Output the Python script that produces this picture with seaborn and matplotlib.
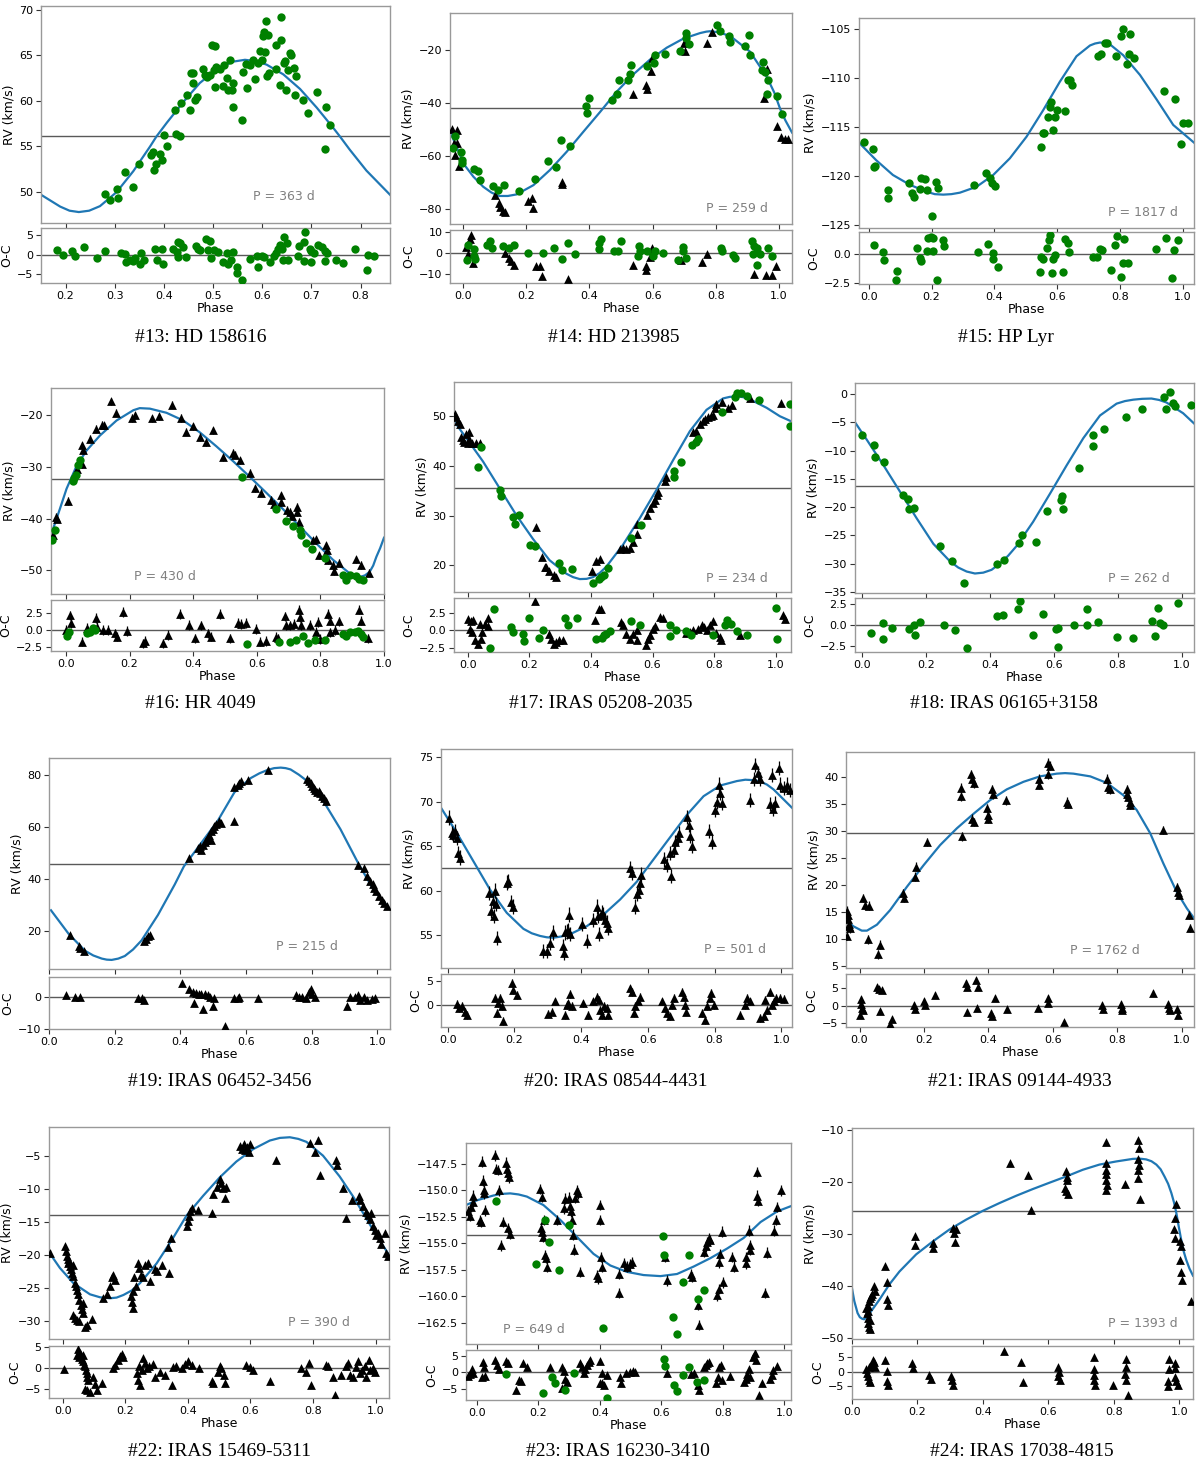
#radial velocity curves with O-C residuals for twelve binaries
import matplotlib
matplotlib.use('Agg')
import matplotlib.pyplot as plt
import seaborn as sns

# ---------------- data (phase, value) ----------------
P13_CURVE = [(0.150, 49.7), (0.189, 48.4), (0.208, 47.95), (0.227, 47.8), (0.248, 47.95), (0.270, 48.45),
             (0.304, 50.0), (0.338, 52.3), (0.372, 55.0), (0.385, 56.1), (0.406, 57.6), (0.440, 59.9),
             (0.473, 61.95), (0.507, 63.45), (0.541, 64.3), (0.565, 64.5), (0.587, 64.35), (0.609, 63.97),
             (0.643, 62.9), (0.677, 61.3), (0.711, 59.25), (0.745, 57.0), (0.758, 56.1), (0.778, 54.65),
             (0.812, 52.35), (0.860, 49.7)]
P13_GREEN = [(0.280, 49.8), (0.290, 49.1), (0.304, 50.3), (0.307, 49.3), (0.320, 52.2), (0.338, 50.5),
             (0.350, 53.1), (0.374, 54.1), (0.378, 54.4), (0.380, 52.4), (0.383, 53.1), (0.392, 54.2),
             (0.397, 53.5), (0.401, 56.3), (0.406, 55.0), (0.422, 59.0), (0.425, 56.4), (0.433, 56.1),
             (0.434, 59.8), (0.448, 60.6), (0.453, 59.0), (0.456, 63.0), (0.459, 63.1), (0.460, 62.0),
             (0.463, 60.1), (0.467, 60.4), (0.480, 63.5), (0.483, 62.8), (0.487, 62.6), (0.493, 62.8),
             (0.497, 66.1), (0.503, 66.0), (0.501, 63.4), (0.504, 61.5), (0.507, 63.7), (0.514, 63.5),
             (0.520, 61.6), (0.522, 63.9), (0.528, 62.5), (0.531, 61.2), (0.534, 64.5), (0.538, 61.2),
             (0.541, 62.0), (0.541, 59.3), (0.558, 57.9), (0.561, 63.2), (0.568, 64.0), (0.570, 61.4),
             (0.575, 63.9), (0.582, 64.5), (0.585, 62.4), (0.592, 64.1), (0.595, 65.5), (0.599, 64.5),
             (0.601, 67.1), (0.604, 67.6), (0.606, 65.4), (0.608, 68.8), (0.609, 62.7), (0.612, 67.2),
             (0.614, 63.0), (0.628, 66.1), (0.629, 63.5), (0.636, 61.7), (0.638, 69.2), (0.638, 66.7),
             (0.644, 64.1), (0.646, 64.4), (0.648, 61.2), (0.653, 63.4), (0.656, 65.2), (0.659, 65.0),
             (0.665, 63.6), (0.667, 60.6), (0.668, 62.7), (0.682, 60.1), (0.694, 58.7), (0.711, 61.0),
             (0.728, 54.7), (0.730, 59.3), (0.738, 57.4)]
P13_GREEN_OC = [(0.182, 1.1), (0.195, 0.0), (0.214, 0.9), (0.219, -0.4), (0.237, 1.8), (0.263, -1.0),
                (0.280, 0.9), (0.312, 0.3), (0.321, 0.1), (0.323, -1.9), (0.331, -1.3), (0.338, -1.6),
                (0.341, -1.0), (0.351, -2.3), (0.354, 0.4), (0.360, -1.4), (0.382, 1.5), (0.385, -1.3),
                (0.397, 1.5), (0.399, -2.3), (0.418, 1.3), (0.426, 0.7), (0.428, 3.2), (0.433, 2.8),
                (0.438, 1.8), (0.429, -0.6), (0.445, -0.6), (0.465, 2.1), (0.470, 1.5), (0.473, 1.1),
                (0.486, 3.8), (0.494, 3.5), (0.496, -1.0), (0.489, 1.1), (0.501, 1.1), (0.511, 0.7),
                (0.521, -1.9), (0.528, 0.5), (0.530, -2.5), (0.536, -1.3), (0.541, 0.7), (0.548, -3.1),
                (0.549, -4.7), (0.558, -6.4), (0.576, -1.2), (0.592, -3.1), (0.590, -0.4), (0.599, -0.3),
                (0.603, -0.6), (0.616, -2.0), (0.624, -0.3), (0.628, 0.3), (0.632, 1.3), (0.636, 2.4),
                (0.640, 1.5), (0.643, -1.4), (0.644, 4.5), (0.650, 3.0), (0.653, -1.3), (0.673, -0.3),
                (0.675, 2.1), (0.685, 3.2), (0.687, 5.6), (0.685, -1.7), (0.697, 1.3), (0.700, 0.9),
                (0.700, -2.0), (0.706, 0.3), (0.714, 2.4), (0.721, 1.9), (0.727, 0.9), (0.727, -1.7),
                (0.731, 0.4), (0.751, -1.3), (0.765, -2.1), (0.789, 1.4), (0.813, -3.8), (0.816, -0.2),
                (0.828, -0.3)]
P13_TRI = []
P13_TRI_OC = []

P14_CURVE = [(-0.041, -50.8), (-0.020, -56.5), (0.001, -62.8), (0.033, -67.8), (0.064, -71.6),
             (0.090, -73.8), (0.115, -75.1), (0.142, -75.1), (0.170, -74.5), (0.223, -71.0),
             (0.275, -65.3), (0.328, -58.4), (0.381, -50.8), (0.434, -43.3), (0.486, -35.7),
             (0.539, -29.1), (0.592, -23.5), (0.645, -19.0), (0.697, -15.6), (0.750, -13.5),
             (0.770, -12.95), (0.782, -12.8), (0.803, -13.1), (0.830, -14.0), (0.855, -15.5),
             (0.908, -20.5), (0.961, -30.0), (0.985, -36.0), (1.003, -42.0), (1.020, -46.5),
             (1.041, -51.1)]
P14_GREEN = [(-0.031, -57.1), (-0.025, -52.5), (-0.006, -58.4), (-0.004, -61.5), (-0.004, -62.8),
             (0.035, -65.0), (0.049, -65.5), (0.054, -69.1), (0.096, -71.3), (0.112, -72.8),
             (0.130, -70.9), (0.178, -73.2), (0.228, -68.7), (0.268, -61.9), (0.293, -64.0),
             (0.311, -54.0), (0.339, -56.2), (0.389, -41.0), (0.391, -43.7), (0.399, -38.2),
             (0.470, -38.9), (0.486, -36.6), (0.494, -31.1), (0.523, -31.3), (0.528, -29.1),
             (0.531, -25.7), (0.581, -26.0), (0.604, -24.8), (0.608, -21.6), (0.639, -21.3),
             (0.687, -20.3), (0.705, -13.5), (0.706, -15.2), (0.714, -17.7), (0.803, -10.3),
             (0.813, -12.7), (0.843, -14.7), (0.845, -16.9), (0.892, -18.5), (0.906, -14.3),
             (0.908, -21.6), (0.948, -24.4), (0.945, -27.3), (0.956, -28.2), (0.966, -31.3),
             (0.961, -36.4), (0.995, -37.2), (1.008, -44.2)]
P14_TRI = [(-0.034, -49.9), (-0.020, -50.2), (-0.027, -55.2), (-0.018, -55.0), (-0.025, -59.6),
           (-0.013, -63.8), (0.101, -74.7), (0.114, -77.9), (0.117, -79.1), (0.128, -80.6),
           (0.133, -81.1), (0.207, -76.9), (0.219, -76.0), (0.223, -79.8), (0.312, -69.7),
           (0.314, -70.7), (0.537, -36.7), (0.579, -33.0), (0.581, -34.8), (0.594, -27.8),
           (0.597, -23.1), (0.703, -20.3), (0.700, -17.2), (0.771, -17.1), (0.789, -13.1),
           (0.952, -37.9), (0.961, -27.0), (0.993, -48.7), (1.006, -52.7), (1.019, -53.7),
           (1.027, -53.7)]
P14_GREEN_OC = [(0.012, -3.1), (0.017, 3.9), (0.035, 1.9), (0.035, -1.2), (0.038, -2.8), (0.075, 3.9),
                (0.085, 5.5), (0.093, 2.3), (0.128, 3.4), (0.146, 2.3), (0.161, 3.9), (0.207, 0.0),
                (0.254, 0.0), (0.289, 2.3), (0.313, -2.8), (0.331, 5.0), (0.354, -0.5), (0.430, 5.0),
                (0.437, 6.6), (0.431, 1.9), (0.478, 0.8), (0.491, 1.2), (0.499, 5.5), (0.558, 3.4),
                (0.554, -1.2), (0.560, 0.8), (0.583, 1.2), (0.602, -1.2), (0.608, 1.2), (0.634, 0.0),
                (0.679, -3.1), (0.695, 3.1), (0.697, 0.8), (0.705, -2.3), (0.816, 2.3), (0.821, 1.2),
                (0.853, -0.8), (0.861, -2.3), (0.914, 5.9), (0.921, 3.4), (0.917, -0.5), (0.929, 2.3),
                (0.929, -5.5), (0.940, -0.3), (0.964, 2.3), (0.977, -1.2)]
P14_TRI_OC = [(0.009, 3.1), (0.017, -0.3), (0.025, 8.6), (0.022, 6.6), (0.031, -4.7), (0.133, 0.0),
              (0.147, -2.3), (0.152, -3.9), (0.161, -5.5), (0.230, -6.2), (0.244, -6.2), (0.249, -10.6),
              (0.333, -12.2), (0.539, -5.5), (0.579, -5.9), (0.579, -8.1), (0.592, -1.9), (0.597, 2.3),
              (0.690, -3.4), (0.757, -4.4), (0.773, -0.3), (0.921, -9.7), (0.935, 1.9), (0.959, -10.5),
              (0.977, -10.1), (0.991, -6.2)]

P15_CURVE = [(-0.031, -116.6), (0.024, -118.4), (0.077, -119.9), (0.131, -120.9), (0.184, -121.6),
             (0.210, -121.85), (0.237, -121.9), (0.263, -121.85), (0.290, -121.7), (0.343, -121.1),
             (0.396, -119.9), (0.449, -118.2), (0.502, -116.0), (0.555, -113.3), (0.608, -110.4),
             (0.661, -107.8), (0.704, -106.7), (0.720, -106.5), (0.736, -106.4), (0.752, -106.45),
             (0.768, -106.6), (0.810, -107.7), (0.863, -109.7), (0.916, -112.2), (0.969, -114.8),
             (1.035, -116.6)]
P15_GREEN = [(-0.016, -116.5), (0.014, -117.3), (0.016, -119.1), (0.019, -119.0), (0.062, -121.4),
             (0.062, -122.2), (0.128, -120.7), (0.139, -121.7), (0.144, -122.1), (0.162, -121.3),
             (0.166, -120.2), (0.178, -120.3), (0.184, -121.4), (0.200, -124.1), (0.213, -120.6),
             (0.220, -121.2), (0.335, -120.9), (0.372, -119.7), (0.385, -120.2), (0.391, -120.7),
             (0.403, -121.0), (0.547, -117.0), (0.553, -115.6), (0.558, -115.6), (0.570, -114.0),
             (0.576, -113.0), (0.579, -112.5), (0.587, -115.3), (0.593, -114.0), (0.598, -113.3),
             (0.626, -113.4), (0.635, -110.2), (0.642, -110.2), (0.648, -110.7), (0.728, -107.8),
             (0.739, -107.6), (0.752, -106.4), (0.759, -106.4), (0.786, -107.8), (0.803, -105.7),
             (0.808, -105.0), (0.821, -108.6), (0.829, -107.6), (0.831, -105.5), (0.844, -108.0),
             (0.941, -111.3), (0.975, -112.2), (0.994, -116.7), (1.001, -114.6), (1.015, -114.6)]
P15_GREEN_OC = [(0.016, 0.72), (0.046, 0.14), (0.048, -0.56), (0.088, -2.22), (0.091, -1.45),
                (0.152, 0.5), (0.162, -0.33), (0.166, -0.61), (0.184, 0.22), (0.187, 1.33),
                (0.197, 1.39), (0.203, 1.33), (0.205, 0.28), (0.218, -2.22), (0.235, 1.14),
                (0.240, 0.69), (0.348, 0.17), (0.380, 0.83), (0.394, 0.08), (0.396, -0.42),
                (0.410, -1.08), (0.545, -1.53), (0.547, -0.28), (0.553, -0.42), (0.566, 0.50),
                (0.573, 1.19), (0.576, 1.56), (0.584, -1.58), (0.587, -0.42), (0.593, -0.06),
                (0.619, -1.53), (0.626, 1.25), (0.635, 0.92), (0.638, 0.17), (0.714, -0.25),
                (0.725, -0.25), (0.736, 0.44), (0.743, 0.36), (0.770, -1.39), (0.783, 0.72),
                (0.789, 1.47), (0.803, -1.92), (0.808, -0.81), (0.813, 1.25), (0.826, -0.81),
                (0.914, 0.44), (0.946, 1.33), (0.964, -2.08), (0.971, 0.36), (0.985, 1.14)]
P15_TRI = []
P15_TRI_OC = []

P16_CURVE = [(-0.047, -43.2), (-0.019, -38.1), (0.002, -34.2), (0.034, -29.7), (0.065, -26.8),
             (0.107, -23.9), (0.159, -21.0), (0.212, -19.0), (0.232, -18.6), (0.264, -18.7),
             (0.316, -19.5), (0.369, -21.0), (0.421, -23.3), (0.473, -26.0), (0.526, -28.9),
             (0.578, -31.9), (0.630, -35.0), (0.683, -38.2), (0.735, -41.5), (0.787, -44.8),
             (0.840, -48.0), (0.892, -50.6), (0.908, -51.1), (0.924, -51.3), (0.940, -51.0),
             (0.955, -50.3), (0.966, -49.1), (0.976, -47.4), (0.988, -45.7), (1.000, -43.7)]
P16_GREEN = [(-0.045, -44.2), (-0.035, -42.3), (0.021, -32.8), (0.025, -32.1), (0.031, -31.5),
             (0.039, -29.7), (0.044, -28.7), (0.552, -31.9), (0.659, -38.1), (0.693, -40.5),
             (0.714, -41.4), (0.735, -42.3), (0.740, -43.1), (0.754, -44.8), (0.775, -45.8),
             (0.814, -47.7), (0.871, -51.0), (0.882, -51.9), (0.892, -51.0), (0.913, -51.2),
             (0.921, -51.6), (0.934, -51.8)]
P16_TRI = [(-0.042, -43.1), (-0.031, -39.7), (-0.027, -40.0), (0.005, -36.6), (0.036, -30.3),
           (0.049, -29.4), (0.052, -25.8), (0.054, -26.8), (0.075, -24.5), (0.096, -22.6),
           (0.114, -21.8), (0.119, -21.9), (0.143, -17.3), (0.157, -19.5), (0.207, -20.5),
           (0.217, -20.0), (0.272, -20.6), (0.293, -20.2), (0.332, -17.9), (0.361, -20.5),
           (0.400, -22.1), (0.379, -23.2), (0.421, -24.2), (0.440, -25.2), (0.461, -22.9),
           (0.494, -28.1), (0.524, -27.3), (0.531, -27.6), (0.547, -28.7), (0.580, -31.1),
           (0.593, -34.1), (0.612, -35.0), (0.646, -36.4), (0.653, -37.1), (0.677, -35.5),
           (0.675, -36.8), (0.695, -38.3), (0.704, -38.7), (0.712, -39.4), (0.725, -38.7),
           (0.725, -37.7), (0.732, -40.6), (0.777, -44.2), (0.787, -44.0), (0.796, -47.1),
           (0.817, -45.2), (0.822, -46.1), (0.824, -48.1), (0.840, -49.0), (0.859, -48.5),
           (0.843, -50.2), (0.911, -47.9), (0.929, -49.0), (0.953, -50.5)]
P16_GREEN_OC = [(0.002, -0.85), (0.010, -0.25), (0.067, -0.5), (0.077, -0.25), (0.084, 0.25),
                (0.091, 0.0), (0.568, -2.15), (0.670, -1.85), (0.704, -1.85), (0.722, -1.5),
                (0.745, -0.85), (0.761, -2.0), (0.782, -1.5), (0.814, -1.5), (0.871, -0.65),
                (0.882, -0.85), (0.892, -0.25), (0.908, -0.25), (0.919, -0.15), (0.927, -0.65),
                (0.934, -1.1)]
P16_TRI_OC = [(-0.001, 0.0), (0.013, 2.15), (0.016, 1.0), (0.049, -1.75), (0.067, 0.25), (0.096, 1.75),
              (0.098, 0.5), (0.115, 0.0), (0.133, 0.0), (0.154, -0.5), (0.159, -1.0), (0.180, 2.65),
              (0.193, -0.15), (0.243, -2.0), (0.249, -1.65), (0.304, -2.0), (0.321, -0.75),
              (0.360, 2.35), (0.387, 0.75), (0.405, -1.25), (0.424, 0.65), (0.447, -0.5),
              (0.457, -1.0), (0.484, 2.35), (0.515, -1.25), (0.541, 1.0), (0.549, 0.85),
              (0.565, 1.0), (0.597, 0.15), (0.610, -1.75), (0.628, -1.65), (0.660, -1.0),
              (0.667, -1.25), (0.688, 2.0), (0.691, 0.65), (0.706, 0.65), (0.717, 0.85),
              (0.733, 3.0), (0.737, 1.85), (0.740, 0.65), (0.766, 0.75), (0.787, -0.25),
              (0.793, 1.15), (0.800, -1.35), (0.824, 2.35), (0.829, 1.35), (0.831, -0.35),
              (0.845, 0.0), (0.860, 1.25), (0.920, 3.0), (0.929, 1.35), (0.950, -1.25)]

P17_CURVE = [(-0.044, 49.0), (-0.004, 45.6), (0.050, 40.9), (0.104, 35.5), (0.158, 30.1), (0.212, 25.3),
             (0.266, 21.0), (0.320, 18.3), (0.342, 17.6), (0.364, 17.2), (0.386, 17.25), (0.407, 17.6),
             (0.428, 18.4), (0.450, 19.7), (0.504, 24.1), (0.558, 29.4), (0.613, 35.2), (0.667, 41.2),
             (0.721, 47.0), (0.775, 51.3), (0.829, 53.6), (0.850, 53.9), (0.872, 54.0), (0.894, 53.85),
             (0.916, 53.4), (0.970, 51.7), (1.013, 50.0), (1.049, 49.0)]
P17_GREEN = [(0.044, 43.9), (0.034, 39.7), (0.104, 35.2), (0.109, 34.0), (0.147, 29.8), (0.153, 28.3),
             (0.167, 30.1), (0.201, 24.1), (0.218, 23.8), (0.297, 20.5), (0.307, 19.0), (0.340, 19.2),
             (0.407, 16.5), (0.426, 17.3), (0.434, 17.6), (0.442, 18.1), (0.456, 19.5), (0.529, 25.5),
             (0.561, 28.0), (0.669, 37.7), (0.669, 39.0), (0.692, 40.8), (0.729, 44.3), (0.742, 44.9),
             (0.746, 45.5), (0.824, 50.9), (0.867, 53.8), (0.874, 54.7), (0.886, 54.6), (0.907, 54.0),
             (0.945, 53.2), (1.045, 52.4), (1.045, 48.0)]
P17_TRI = [(-0.042, 50.5), (-0.037, 49.8), (-0.031, 49.0), (-0.026, 48.4), (-0.021, 45.8), (-0.015, 45.3),
           (-0.010, 44.9), (-0.004, 46.4), (0.001, 44.6), (0.006, 45.5), (0.015, 44.6), (0.026, 44.6),
           (0.039, 44.6), (0.006, 46.8), (0.221, 27.6), (0.242, 21.7), (0.250, 19.7), (0.255, 19.7),
           (0.263, 18.8), (0.279, 18.0), (0.288, 17.6), (0.402, 18.8), (0.416, 20.8), (0.429, 21.2),
           (0.494, 23.2), (0.504, 23.4), (0.515, 23.2), (0.526, 23.4), (0.535, 24.7), (0.550, 26.2),
           (0.550, 28.2), (0.582, 30.1), (0.591, 31.5), (0.600, 32.5), (0.607, 33.1), (0.613, 34.2),
           (0.618, 34.7), (0.640, 36.9), (0.645, 37.7), (0.732, 46.8), (0.742, 47.1), (0.753, 48.4),
           (0.764, 49.0), (0.770, 49.5), (0.780, 49.8), (0.788, 50.0), (0.797, 50.2), (0.802, 51.7),
           (0.807, 52.4), (0.824, 52.9), (0.845, 51.7), (0.859, 52.2), (0.916, 53.6), (1.018, 52.7)]
P17_GREEN_OC = [(0.085, 3.15), (0.074, -2.55), (0.142, 0.5), (0.147, -0.25), (0.180, -0.5), (0.184, -1.6),
                (0.198, 1.8), (0.232, -1.1), (0.245, 0.0), (0.317, 1.85), (0.326, 0.75), (0.355, 1.85),
                (0.418, -1.2), (0.437, -1.1), (0.443, -0.75), (0.450, -0.5), (0.461, -0.15),
                (0.529, 1.3), (0.558, 0.75), (0.658, 0.75), (0.658, -0.85), (0.677, 0.0),
                (0.710, -0.15), (0.724, -0.65), (0.797, -0.65), (0.834, 0.75), (0.843, 1.45),
                (0.854, 0.95), (0.874, -0.15), (0.907, -0.75), (1.000, 3.25), (1.002, -1.2)]
P17_TRI_OC = [(0.001, 1.6), (0.010, 1.3), (0.017, 1.45), (0.009, 0.15), (0.015, -0.25), (0.023, -1.45),
              (0.034, -1.95), (0.039, 0.95), (0.044, -1.2), (0.048, -0.25), (0.055, 0.95), (0.066, 1.8),
              (0.066, 0.65), (0.218, 4.2), (0.264, -0.5), (0.272, -1.2), (0.279, -1.95), (0.288, -1.7),
              (0.297, -1.45), (0.310, -1.45), (0.412, 1.45), (0.426, 3.15), (0.434, 3.15),
              (0.497, 1.2), (0.504, 0.8), (0.515, -0.5), (0.526, -1.2), (0.537, -0.5), (0.548, -1.45),
              (0.550, 0.0), (0.580, -2.1), (0.586, -1.2), (0.593, -0.75), (0.602, 0.25), (0.607, 0.65),
              (0.623, 1.95), (0.634, 1.8), (0.708, -0.35), (0.721, -0.25), (0.732, 0.0), (0.748, 0.25),
              (0.759, 0.75), (0.766, 0.5), (0.775, 0.0), (0.786, 0.75), (0.797, 1.3), (0.807, -0.35),
              (0.818, -0.95), (0.821, -1.45), (0.883, -0.65), (1.024, 2.2), (1.029, 1.7)]

P18_CURVE = [(-0.021, -5.0), (0.016, -8.1), (0.068, -12.6), (0.120, -17.3), (0.172, -22.0), (0.224, -26.5),
             (0.276, -29.6), (0.302, -30.7), (0.328, -31.4), (0.354, -31.75), (0.380, -31.6), (0.406, -31.1),
             (0.432, -30.0), (0.458, -28.6), (0.484, -26.9), (0.536, -22.6), (0.589, -17.6), (0.641, -12.6),
             (0.693, -7.8), (0.745, -3.8), (0.797, -1.7), (0.823, -1.25), (0.849, -1.0), (0.877, -0.85),
             (0.906, -0.8), (0.930, -1.05), (0.953, -1.5), (1.005, -3.4), (1.039, -5.2)]
P18_GREEN = [(0.000, -7.2), (0.039, -9.0), (0.042, -11.1), (0.070, -12.1), (0.128, -17.8), (0.144, -18.6),
             (0.149, -20.4), (0.165, -20.1), (0.245, -26.9), (0.281, -29.5), (0.321, -33.4), (0.424, -30.0),
             (0.445, -29.3), (0.493, -26.3), (0.500, -25.0), (0.544, -26.2), (0.578, -20.7), (0.623, -18.8),
             (0.627, -18.0), (0.630, -20.4), (0.680, -13.0), (0.724, -7.2), (0.724, -9.2), (0.758, -6.2),
             (0.826, -4.1), (0.877, -2.6), (0.945, -0.6), (0.964, 0.35), (0.953, -2.6), (0.972, -1.6),
             (0.979, -2.2), (1.029, -2.0)]
P18_GREEN_OC = [(0.029, -0.9), (0.065, 0.2), (0.068, -1.7), (0.094, -0.3), (0.149, -0.5), (0.164, 0.0),
                (0.167, -1.2), (0.182, 0.3), (0.257, 0.0), (0.292, -0.6), (0.328, -2.7), (0.424, 1.1),
                (0.443, 1.2), (0.490, 1.9), (0.495, 2.8), (0.536, -1.2), (0.568, 1.3), (0.609, -0.5),
                (0.615, -0.3), (0.615, -2.6), (0.664, 0.0), (0.703, 1.9), (0.705, 0.0), (0.738, 0.4),
                (0.799, -1.4), (0.847, -1.5), (0.909, 0.5), (0.917, -1.3), (0.927, 2.0), (0.932, 0.2),
                (0.943, 0.0), (0.990, 2.6)]
P18_TRI = []
P18_TRI_OC = []

P19_CURVE = [(0.006, 28.1), (0.060, 19.0), (0.110, 12.5), (0.135, 10.7), (0.161, 9.5), (0.176, 9.1),
             (0.191, 9.0), (0.211, 9.5), (0.231, 10.5), (0.256, 13.0), (0.282, 16.5), (0.332, 26.3),
             (0.383, 38.0), (0.411, 45.0), (0.464, 54.0), (0.514, 62.5), (0.565, 73.5), (0.615, 79.0),
             (0.641, 80.8), (0.666, 82.1), (0.686, 82.8), (0.706, 83.0), (0.721, 82.8), (0.736, 82.3),
             (0.761, 80.3), (0.787, 77.8), (0.837, 69.9), (0.888, 59.3), (0.943, 46.0), (0.989, 36.0),
             (1.039, 28.5)]
P19_GREEN = []
P19_GREEN_OC = []
P19_TRI = [(0.063, 18.7), (0.090, 14.5), (0.095, 13.6), (0.108, 12.6), (0.290, 16.4), (0.297, 17.1),
           (0.302, 18.1), (0.307, 18.7), (0.428, 48.2), (0.454, 52.1), (0.461, 52.7), (0.464, 51.4),
           (0.468, 53.3), (0.474, 54.2), (0.479, 55.3), (0.484, 56.3), (0.489, 57.2), (0.494, 58.5),
           (0.499, 59.4), (0.504, 60.4), (0.509, 61.4), (0.519, 62.3), (0.524, 61.7), (0.494, 55.3),
           (0.563, 62.3), (0.565, 75.5), (0.576, 76.4), (0.580, 77.1), (0.585, 77.7), (0.607, 78.1),
           (0.666, 82.2), (0.787, 78.6), (0.792, 77.7), (0.797, 77.1), (0.802, 76.0), (0.807, 75.1),
           (0.812, 74.5), (0.817, 73.5), (0.822, 73.9), (0.827, 73.2), (0.832, 72.2), (0.837, 71.3),
           (0.843, 70.0), (0.943, 45.6), (0.959, 44.4), (0.969, 41.4), (0.979, 39.2), (0.987, 38.2),
           (0.989, 36.7), (0.997, 35.4), (1.004, 33.7), (1.014, 32.2), (1.021, 30.9), (1.029, 29.6)]
P19_TRI_OC = [(0.052, 0.7), (0.080, 0.2), (0.095, 0.2), (0.272, -0.3), (0.282, -0.3), (0.290, -1.0),
              (0.405, 4.4), (0.428, 2.5), (0.438, 1.8), (0.443, -1.7), (0.448, 1.5), (0.456, 1.2),
              (0.464, 1.2), (0.474, 0.9), (0.469, -3.7), (0.484, 0.7), (0.492, 0.2), (0.499, -2.9),
              (0.504, -0.3), (0.536, -9.2), (0.565, -0.3), (0.576, -0.3), (0.580, 0.2), (0.637, -0.3),
              (0.752, 0.7), (0.762, 0.0), (0.772, 0.2), (0.782, -0.3), (0.792, 1.8), (0.797, 2.5),
              (0.802, 1.0), (0.812, 0.0), (0.908, -2.7), (0.918, 0.0), (0.933, 0.2), (0.943, 0.7),
              (0.948, -1.0), (0.959, 0.0), (0.969, -1.0), (0.984, -0.6), (0.994, -0.3)]

P20_CURVE = [(-0.020, 69.3), (0.027, 66.5), (0.077, 63.3), (0.127, 60.1), (0.177, 57.5), (0.227, 55.7),
             (0.252, 55.2), (0.277, 54.9), (0.297, 54.75), (0.317, 54.7), (0.342, 54.85), (0.367, 55.1),
             (0.417, 56.0), (0.467, 57.3), (0.517, 59.0), (0.567, 61.0), (0.617, 63.5), (0.667, 66.0),
             (0.717, 68.5), (0.767, 70.6), (0.817, 71.8), (0.867, 72.3), (0.892, 72.45), (0.917, 72.4),
             (0.937, 72.25), (0.957, 71.9), (0.977, 71.35), (0.997, 70.6), (1.032, 69.3)]
P20_GREEN = []
P20_GREEN_OC = []
P20_TRI = [(0.005, 68.2), (0.012, 66.5), (0.017, 66.2), (0.022, 66.7), (0.027, 65.9), (0.032, 64.2),
           (0.037, 63.7), (0.125, 59.7), (0.129, 57.7), (0.135, 58.8), (0.139, 57.1), (0.142, 60.0),
           (0.145, 58.5), (0.149, 54.7), (0.177, 60.9), (0.182, 61.1), (0.190, 58.7), (0.197, 58.2),
           (0.287, 53.2), (0.299, 53.2), (0.307, 54.1), (0.315, 55.3), (0.347, 53.8), (0.349, 53.0),
           (0.352, 55.3), (0.357, 55.4), (0.362, 55.6), (0.365, 57.3), (0.367, 55.1), (0.402, 56.2),
           (0.419, 54.3), (0.435, 56.7), (0.447, 58.2), (0.452, 57.1), (0.455, 55.1), (0.462, 57.6),
           (0.467, 57.3), (0.472, 56.7), (0.477, 56.4), (0.482, 55.8), (0.547, 62.5), (0.552, 62.0),
           (0.562, 58.2), (0.567, 59.6), (0.572, 60.1), (0.577, 60.9), (0.579, 61.8), (0.647, 63.5),
           (0.657, 62.9), (0.665, 64.2), (0.669, 61.6), (0.677, 64.6), (0.682, 65.4), (0.689, 65.9),
           (0.692, 66.5), (0.717, 68.3), (0.722, 67.4), (0.727, 66.1), (0.732, 65.0), (0.782, 66.7),
           (0.792, 65.5), (0.802, 69.1), (0.807, 70.0), (0.812, 71.9), (0.817, 71.0), (0.822, 69.8),
           (0.905, 70.2), (0.917, 72.5), (0.922, 74.1), (0.929, 73.2), (0.935, 72.5), (0.965, 69.7),
           (0.972, 73.0), (0.975, 69.2), (0.982, 69.8), (0.992, 73.8), (0.997, 71.9), (1.007, 71.5),
           (1.017, 71.9), (1.027, 71.3)]
P20_TRI_OC = [(0.027, 0.2), (0.035, -0.7), (0.042, -0.2), (0.052, -1.4), (0.057, -2.1), (0.142, 1.4),
              (0.147, -1.7), (0.152, 0.3), (0.157, 1.4), (0.162, -0.3), (0.165, -3.4), (0.192, 4.5),
              (0.197, 3.1), (0.207, 2.1), (0.302, -1.8), (0.312, -1.4), (0.322, 0.7), (0.352, -2.1),
              (0.357, 0.0), (0.362, 0.3), (0.367, 2.3), (0.372, -0.2), (0.405, 0.3), (0.422, -2.1),
              (0.437, 0.7), (0.447, 1.7), (0.455, 1.0), (0.457, -1.0), (0.462, -2.1), (0.469, -0.2),
              (0.477, -0.7), (0.482, -2.1), (0.545, 3.4), (0.552, 2.7), (0.557, -1.7), (0.562, -0.3),
              (0.569, 0.7), (0.575, 1.7), (0.642, 0.7), (0.652, -0.7), (0.657, -1.7), (0.665, -2.4),
              (0.672, 0.0), (0.677, 1.4), (0.702, 2.7), (0.707, 1.7), (0.712, 0.0), (0.715, -1.4),
              (0.762, -1.7), (0.772, -3.2), (0.777, -0.3), (0.785, 1.4), (0.789, 2.4), (0.797, 0.0),
              (0.877, -2.1), (0.892, 0.0), (0.897, 1.4), (0.905, 0.7), (0.937, -2.7), (0.947, -2.4),
              (0.952, 1.0), (0.957, -1.0), (0.965, 2.7), (0.972, 0.0), (0.977, 0.7), (0.985, 1.4),
              (0.997, 1.4), (1.007, 1.2)]

P21_CURVE = [(-0.042, 13.6), (-0.019, 12.4), (0.007, 11.6), (0.023, 11.6), (0.054, 12.7), (0.095, 15.4),
             (0.147, 19.7), (0.199, 23.7), (0.250, 27.4), (0.302, 30.5), (0.354, 33.2), (0.405, 35.7),
             (0.457, 37.7), (0.509, 39.1), (0.560, 40.1), (0.612, 40.6), (0.638, 40.7), (0.664, 40.6),
             (0.716, 40.1), (0.767, 38.9), (0.819, 36.6), (0.860, 33.9), (0.902, 29.6), (0.943, 24.0),
             (0.984, 18.8), (1.016, 15.7), (1.038, 13.9)]
P21_GREEN = []
P21_GREEN_OC = []
P21_TRI = [(-0.039, 15.3), (-0.037, 14.5), (-0.036, 13.7), (-0.034, 12.9), (-0.032, 12.5), (-0.039, 10.6),
           (-0.031, 12.0), (0.012, 17.6), (0.018, 16.3), (0.030, 16.2), (0.026, 10.0), (0.062, 9.0),
           (0.057, 7.2), (0.134, 18.5), (0.137, 17.6), (0.175, 23.4), (0.173, 21.6), (0.209, 28.0),
           (0.314, 38.0), (0.314, 36.4), (0.317, 29.0), (0.345, 40.5), (0.350, 39.7), (0.354, 38.8),
           (0.350, 32.3), (0.354, 31.7), (0.397, 34.2), (0.398, 32.9), (0.400, 32.3), (0.411, 37.7),
           (0.413, 36.8), (0.454, 35.7), (0.558, 39.7), (0.558, 38.5), (0.586, 42.6), (0.592, 42.1),
           (0.586, 40.5), (0.643, 35.4), (0.648, 35.0), (0.767, 39.7), (0.772, 38.2), (0.776, 37.7),
           (0.830, 37.7), (0.831, 36.9), (0.834, 36.3), (0.838, 35.4), (0.840, 34.8), (0.941, 30.2),
           (0.984, 19.6), (0.988, 18.8), (0.990, 18.2), (1.021, 14.5), (1.026, 12.1)]
P21_TRI_OC = [(0.004, 1.9), (0.004, 0.6), (0.007, -0.7), (0.002, -2.6), (0.010, -1.3), (0.054, 5.5),
              (0.059, 4.8), (0.069, 4.6), (0.064, -1.6), (0.093, -5.2), (0.100, -3.8), (0.168, 0.3),
              (0.171, -1.0), (0.201, 1.5), (0.203, 0.3), (0.235, 3.1), (0.330, 6.5), (0.333, 5.3),
              (0.333, -1.8), (0.362, 7.4), (0.369, 5.5), (0.366, -0.7), (0.407, -2.1), (0.411, -2.9),
              (0.421, 2.2), (0.459, -0.9), (0.555, -0.7), (0.586, 0.8), (0.586, 2.2), (0.636, -4.8),
              (0.752, 0.3), (0.755, -1.0), (0.811, 0.6), (0.814, -0.7), (0.816, -1.3), (0.910, 3.6),
              (0.956, 0.6), (0.959, -0.7), (0.962, -1.1), (0.984, -1.0), (0.988, -2.6)]

P22_CURVE = [(-0.044, -19.6), (-0.009, -22.0), (0.034, -24.3), (0.087, -26.0), (0.119, -26.45),
             (0.151, -26.6), (0.172, -26.5), (0.194, -26.1), (0.221, -25.4), (0.247, -24.3),
             (0.300, -21.3), (0.353, -17.4), (0.396, -14.0), (0.449, -11.0), (0.502, -8.2),
             (0.555, -5.8), (0.609, -3.9), (0.662, -2.6), (0.694, -2.2), (0.726, -2.1), (0.753, -2.35),
             (0.779, -2.8), (0.832, -4.9), (0.885, -8.05), (0.928, -11.1), (0.965, -14.0),
             (1.002, -17.0), (1.043, -20.0)]
P22_GREEN = []
P22_GREEN_OC = []
P22_TRI = [(-0.040, -19.7), (0.007, -18.7), (0.011, -19.4), (0.013, -20.1), (0.016, -20.6), (0.018, -21.2),
           (0.021, -21.0), (0.023, -21.7), (0.026, -22.2), (0.029, -22.7), (0.032, -21.5), (0.034, -23.2),
           (0.039, -24.3), (0.043, -24.8), (0.047, -25.3), (0.050, -26.0), (0.053, -26.8), (0.057, -27.6),
           (0.061, -28.3), (0.064, -27.3), (0.032, -29.1), (0.039, -29.6), (0.047, -29.9), (0.053, -30.1),
           (0.071, -30.9), (0.079, -30.6), (0.093, -29.8), (0.066, -28.8), (0.130, -26.5), (0.140, -26.0),
           (0.151, -24.8), (0.156, -23.3), (0.162, -23.0), (0.167, -23.8), (0.217, -26.3), (0.220, -27.1),
           (0.223, -28.1), (0.226, -25.5), (0.229, -23.3), (0.234, -24.8), (0.241, -21.2), (0.245, -22.0),
           (0.249, -23.0), (0.255, -23.3), (0.263, -21.5), (0.273, -21.2), (0.279, -24.0), (0.295, -22.2),
           (0.300, -22.5), (0.316, -21.5), (0.337, -18.8), (0.340, -22.7), (0.345, -17.4), (0.396, -15.6),
           (0.399, -14.9), (0.402, -14.1), (0.406, -13.3), (0.412, -12.9), (0.433, -13.1), (0.476, -13.6),
           (0.481, -10.8), (0.494, -9.6), (0.502, -8.5), (0.507, -9.1), (0.513, -9.8), (0.518, -11.3),
           (0.521, -9.6), (0.568, -3.5), (0.573, -3.9), (0.579, -3.2), (0.584, -4.0), (0.589, -3.6),
           (0.596, -4.3), (0.600, -3.2), (0.681, -5.5), (0.789, -3.0), (0.805, -4.4), (0.816, -2.5),
           (0.821, -7.8), (0.872, -5.6), (0.877, -6.3), (0.896, -9.8), (0.904, -14.4), (0.926, -11.6),
           (0.947, -11.0), (0.951, -11.6), (0.960, -12.6), (0.968, -13.4), (0.976, -13.9), (0.981, -14.6),
           (0.986, -13.6), (0.991, -15.6), (0.997, -16.2), (1.002, -16.9), (1.007, -16.7), (1.013, -17.4),
           (1.018, -18.4), (1.029, -16.7), (1.034, -19.7), (1.040, -20.1)]
P22_TRI_OC = [(0.004, -0.2), (0.050, 4.4), (0.047, 3.1), (0.053, 2.6), (0.055, 3.5), (0.061, 2.1),
              (0.064, 1.6), (0.066, 3.1), (0.068, 0.8), (0.071, 0.4), (0.074, -0.4), (0.077, -1.2),
              (0.079, -2.0), (0.082, -2.7), (0.071, -4.9), (0.079, -5.2), (0.087, -5.5), (0.098, -2.0),
              (0.103, -3.7), (0.109, -5.1), (0.124, -3.5), (0.162, 0.0), (0.167, 0.8), (0.178, 2.0),
              (0.183, 2.9), (0.188, 3.4), (0.194, 2.6), (0.236, -1.2), (0.239, -2.7), (0.245, 0.5),
              (0.247, -3.9), (0.252, -0.4), (0.257, 2.3), (0.263, 1.2), (0.268, 0.0), (0.277, 0.4),
              (0.289, 1.0), (0.295, -2.0), (0.311, -0.8), (0.327, -1.6), (0.348, -3.9), (0.353, 0.2),
              (0.362, 0.5), (0.380, 0.0), (0.390, 1.0), (0.401, 1.6), (0.412, 0.8), (0.436, 0.0),
              (0.476, -3.1), (0.481, -3.5), (0.497, -0.8), (0.502, 0.5), (0.507, 0.0), (0.515, -1.6),
              (0.518, -3.5), (0.587, 0.8), (0.600, 0.2), (0.609, -0.4), (0.664, -3.1), (0.763, 0.0),
              (0.779, -0.8), (0.787, 1.2), (0.794, -3.9), (0.840, 0.8), (0.848, 0.4), (0.864, -2.0),
              (0.869, -6.2), (0.890, -1.6), (0.906, 0.4), (0.912, 1.2), (0.919, -1.6), (0.928, -2.0),
              (0.936, 0.2), (0.944, 1.6), (0.949, -1.2), (0.957, -0.4), (0.965, 0.4), (0.970, -2.0),
              (0.979, 2.0), (0.983, -0.5), (0.991, 0.0), (0.997, -0.8)]

P23_CURVE = [(-0.036, -151.4), (0.000, -150.95), (0.053, -150.5), (0.080, -150.35), (0.108, -150.3),
             (0.135, -150.4), (0.162, -150.6), (0.216, -151.4), (0.271, -152.8), (0.325, -154.4),
             (0.379, -156.0), (0.434, -157.1), (0.488, -157.7), (0.542, -158.0), (0.597, -158.1),
             (0.651, -157.9), (0.705, -157.2), (0.760, -156.4), (0.814, -155.5), (0.868, -154.5),
             (0.923, -153.0), (0.977, -152.0), (1.022, -151.5)]
P23_GREEN = [(0.062, -151.0), (0.191, -157.0), (0.222, -152.8), (0.233, -154.9), (0.268, -157.5),
             (0.298, -153.3), (0.409, -163.0), (0.605, -154.3), (0.610, -156.1), (0.638, -162.0),
             (0.651, -163.6), (0.671, -158.7), (0.690, -156.1), (0.720, -160.3), (0.740, -159.4)]
P23_TRI = [(-0.028, -152.0), (-0.023, -152.4), (-0.020, -151.6), (-0.014, -151.1), (-0.012, -150.5),
           (0.010, -152.8), (0.013, -153.0), (0.015, -147.3), (0.018, -149.1), (0.021, -150.0),
           (0.024, -150.3), (0.026, -151.9), (0.059, -146.7), (0.062, -148.0), (0.067, -148.1),
           (0.073, -150.0), (0.078, -155.2), (0.086, -153.0), (0.095, -147.4), (0.099, -148.0),
           (0.102, -148.4), (0.105, -148.8), (0.102, -153.6), (0.108, -154.1), (0.205, -149.9),
           (0.211, -150.6), (0.218, -152.8), (0.207, -153.6), (0.212, -153.9), (0.216, -154.4),
           (0.220, -156.1), (0.224, -156.4), (0.227, -157.2), (0.260, -152.8), (0.282, -151.7),
           (0.287, -150.8), (0.298, -150.7), (0.301, -151.5), (0.305, -152.0), (0.309, -152.8),
           (0.312, -154.2), (0.314, -155.6), (0.320, -150.7), (0.325, -150.0), (0.330, -150.3),
           (0.336, -157.7), (0.392, -158.0), (0.395, -158.3), (0.399, -151.4), (0.401, -152.8),
           (0.403, -156.3), (0.407, -157.2), (0.461, -157.9), (0.461, -159.7), (0.477, -156.9),
           (0.488, -157.2), (0.499, -157.0), (0.504, -156.8), (0.613, -156.3), (0.618, -158.5),
           (0.695, -157.9), (0.701, -158.2), (0.720, -160.8), (0.722, -162.7), (0.738, -155.8),
           (0.744, -155.3), (0.749, -154.9), (0.754, -154.5), (0.757, -154.7), (0.782, -159.9),
           (0.788, -159.3), (0.788, -156.8), (0.792, -156.0), (0.798, -153.9), (0.801, -158.7),
           (0.830, -156.3), (0.836, -157.2), (0.874, -156.3), (0.877, -156.9), (0.885, -153.8),
           (0.890, -155.2), (0.888, -155.6), (0.910, -148.3), (0.912, -150.5), (0.914, -151.0),
           (0.936, -159.7), (0.945, -155.9), (0.966, -153.8), (0.972, -152.8), (0.977, -151.6),
           (0.988, -150.0)]
P23_GREEN_OC = [(0.095, -0.5), (0.216, -6.3), (0.243, -1.3), (0.254, -3.4), (0.287, -5.5), (0.316, -0.3),
                (0.423, -7.8), (0.608, 4.0), (0.613, 2.0), (0.640, -3.9), (0.651, -5.7), (0.671, -0.8),
                (0.690, 1.8), (0.716, -2.9), (0.738, -2.2)]
P23_TRI_OC = [(-0.028, -1.1), (-0.023, -0.5), (-0.017, 0.9), (-0.012, -0.3), (0.015, -1.3), (0.018, 3.3),
              (0.021, 1.8), (0.026, -1.1), (0.059, 3.8), (0.064, 2.3), (0.070, 0.9), (0.127, -5.3),
              (0.135, -2.4), (0.095, 3.6), (0.102, 2.8), (0.142, -2.6), (0.151, 2.8), (0.162, 1.8),
              (0.236, 1.8), (0.276, 1.8), (0.282, 0.5), (0.287, -1.9), (0.292, -2.9), (0.276, -4.9),
              (0.334, 3.0), (0.341, 1.8), (0.347, -0.3), (0.352, 1.2), (0.358, 2.3), (0.363, 3.3),
              (0.368, 3.8), (0.401, 3.6), (0.407, -0.3), (0.407, -3.4), (0.401, -3.4), (0.414, -3.9),
              (0.423, -0.8), (0.466, -1.3), (0.470, -3.4), (0.486, -0.1), (0.499, 0.2), (0.508, 0.5),
              (0.515, 0.2), (0.618, -0.3), (0.695, -0.5), (0.705, -0.1), (0.720, -3.9), (0.722, -5.5),
              (0.738, 1.8), (0.744, 2.3), (0.749, 3.0), (0.754, 3.3), (0.779, -3.4), (0.783, -1.3),
              (0.788, 1.8), (0.795, 2.3), (0.798, -2.4), (0.823, -1.1), (0.868, -2.9), (0.874, -1.9),
              (0.879, -0.5), (0.885, 1.2), (0.890, -1.3), (0.899, 4.8), (0.904, 5.9), (0.907, 3.8),
              (0.918, -7.0), (0.928, -3.4), (0.953, -1.9), (0.961, -0.8), (0.964, 0.7), (0.975, 2.0)]

P24_CURVE = [(-0.003, -39.4), (0.007, -42.9), (0.017, -45.2), (0.024, -46.0), (0.031, -46.3), (0.037, -46.4),
             (0.043, -46.1), (0.058, -44.9), (0.084, -42.6), (0.114, -39.7), (0.145, -37.2), (0.196, -33.9),
             (0.247, -31.4), (0.298, -29.1), (0.349, -27.2), (0.400, -25.5), (0.451, -24.0), (0.502, -22.6),
             (0.553, -21.3), (0.603, -20.1), (0.654, -18.9), (0.705, -17.6), (0.756, -16.6), (0.807, -16.0),
             (0.858, -15.5), (0.879, -15.45), (0.899, -15.6), (0.915, -15.95), (0.930, -16.6),
             (0.943, -17.5), (0.955, -18.9), (0.966, -20.3), (0.976, -22.1), (0.984, -23.9),
             (0.991, -25.9), (0.998, -28.4), (1.006, -31.1), (1.013, -33.2), (1.021, -34.9),
             (1.031, -36.6), (1.042, -38.0)]
P24_GREEN = []
P24_GREEN_OC = []
P24_TRI = [(0.043, -44.2), (0.046, -45.2), (0.048, -46.1), (0.050, -47.1), (0.053, -47.8), (0.055, -48.3),
           (0.048, -43.9), (0.053, -42.9), (0.056, -42.3), (0.058, -42.0), (0.061, -41.6), (0.050, -44.9),
           (0.055, -46.5), (0.068, -39.9), (0.071, -41.0), (0.102, -36.1), (0.106, -39.3), (0.106, -42.5),
           (0.109, -43.6), (0.191, -30.4), (0.194, -32.0), (0.247, -31.7), (0.249, -32.7), (0.310, -28.8),
           (0.313, -29.8), (0.318, -29.1), (0.316, -31.6), (0.483, -16.3), (0.539, -18.7), (0.546, -25.3),
           (0.654, -17.9), (0.656, -18.9), (0.658, -19.6), (0.652, -21.1), (0.654, -21.7), (0.659, -22.2),
           (0.777, -12.3), (0.777, -16.3), (0.775, -17.6), (0.775, -18.5), (0.777, -19.5), (0.779, -20.5),
           (0.777, -21.4), (0.833, -20.3), (0.874, -11.8), (0.876, -13.4), (0.874, -15.6), (0.876, -16.6),
           (0.874, -17.6), (0.874, -19.2), (0.881, -23.2), (0.989, -24.1), (0.986, -26.9), (0.983, -29.1),
           (0.986, -30.7), (1.001, -31.4), (1.004, -32.3), (1.001, -34.9), (1.006, -37.2), (1.009, -38.8),
           (1.037, -42.9)]
P24_TRI_OC = [(0.043, 0.8), (0.045, -0.6), (0.048, -1.5), (0.051, -2.8), (0.055, -3.7), (0.053, 1.7),
              (0.058, 2.3), (0.065, 4.0), (0.068, 3.1), (0.071, 1.7), (0.102, 4.0), (0.106, 0.3),
              (0.106, -3.4), (0.109, -4.5), (0.183, 2.8), (0.185, 1.1), (0.236, -1.1), (0.240, -2.6),
              (0.303, -1.5), (0.306, -2.8), (0.308, -4.5), (0.463, 7.2), (0.515, 3.4), (0.522, -3.7),
              (0.629, 1.5), (0.632, 0.0), (0.629, -1.5), (0.635, -2.8), (0.741, 5.1), (0.741, 0.8),
              (0.739, -1.1), (0.741, -2.8), (0.744, -4.5), (0.797, -4.5), (0.836, 4.2), (0.836, 1.7),
              (0.834, -0.8), (0.838, -2.8), (0.843, -8.0), (0.968, 4.2), (0.968, 0.8), (0.965, -3.4),
              (0.965, -5.1), (0.986, 2.8), (0.986, 1.1), (0.986, -1.7), (0.991, -3.4), (0.996, -4.5)]

NAMES = ['#13: HD 158616', '#14: HD 213985', '#15: HP Lyr', '#16: HR 4049',
         '#17: IRAS 05208-2035', '#18: IRAS 06165+3158', '#19: IRAS 06452-3456',
         '#20: IRAS 08544-4431', '#21: IRAS 09144-4933', '#22: IRAS 15469-5311',
         '#23: IRAS 16230-3410', '#24: IRAS 17038-4815']
PERIODS = [363, 259, 1817, 430, 234, 262, 215, 501, 1762, 390, 649, 1393]
GAMMA = [56.1, -42.0, -115.6, -32.3, 35.5, -16.2, 46.0, 62.5, 29.6, -14.0, -154.25, -25.5]
TRI_ERR = [0, 0, 0, 0.7, 0, 0, 0.5, 0.8, 0.8, 0.4, 0.5, 0]

PHASE_TICKS = [0.0, 0.2, 0.4, 0.6, 0.8, 1.0]
X_TICKS = [[0.2, 0.3, 0.4, 0.5, 0.6, 0.7, 0.8]] + [PHASE_TICKS] * 11
X_LIM = [(0.15, 0.86), (-0.041, 1.041), (-0.031, 1.035), (-0.047, 1.0), (-0.044, 1.049), (-0.021, 1.039),
         (0.006, 1.039), (-0.020, 1.032), (-0.042, 1.038), (-0.044, 1.043), (-0.036, 1.022), (0.0, 1.042)]
RV_LIM = [(46.6, 70.4), (-85.7, -5.9), (-125.3, -103.9), (-54.6, -14.7), (14.6, 56.9), (-35.2, 1.95),
          (5.5, 86.7), (51.3, 75.9), (4.7, 44.6), (-32.8, -0.54), (-164.5, -145.55), (-50.2, -9.55)]
RV_TICKS = [[50, 55, 60, 65, 70], [-80, -60, -40, -20], [-125, -120, -115, -110, -105], [-50, -40, -30, -20],
            [20, 30, 40, 50], [-35, -30, -25, -20, -15, -10, -5, 0], [20, 40, 60, 80], [55, 60, 65, 70, 75],
            [5, 10, 15, 20, 25, 30, 35, 40], [-30, -25, -20, -15, -10, -5],
            [-162.5, -160.0, -157.5, -155.0, -152.5, -150.0, -147.5], [-50, -40, -30, -20, -10]]
OC_LIM = [(-7.2, 6.7), (-14.1, 10.9), (-2.55, 1.85), (-3.15, 4.45), (-3.15, 4.7), (-3.2, 3.2),
          (-10.05, 6.45), (-4.6, 6.4), (-6.1, 9.1), (-7.0, 5.2), (-8.5, 6.9), (-9.4, 8.75)]
OC_TICKS = [[-5, 0, 5], [-10, 0, 10], [-2.5, 0.0], [-2.5, 0.0, 2.5], [-2.5, 0.0, 2.5], [-2.5, 0.0, 2.5],
            [-10, 0], [0, 5], [-5, 0, 5], [-5, 0, 5], [-5, 0, 5], [-5, 0, 5]]

CURVES = [P13_CURVE, P14_CURVE, P15_CURVE, P16_CURVE, P17_CURVE, P18_CURVE,
          P19_CURVE, P20_CURVE, P21_CURVE, P22_CURVE, P23_CURVE, P24_CURVE]
GREENS = [P13_GREEN, P14_GREEN, P15_GREEN, P16_GREEN, P17_GREEN, P18_GREEN,
          P19_GREEN, P20_GREEN, P21_GREEN, P22_GREEN, P23_GREEN, P24_GREEN]
GREENS_OC = [P13_GREEN_OC, P14_GREEN_OC, P15_GREEN_OC, P16_GREEN_OC, P17_GREEN_OC, P18_GREEN_OC,
             P19_GREEN_OC, P20_GREEN_OC, P21_GREEN_OC, P22_GREEN_OC, P23_GREEN_OC, P24_GREEN_OC]
TRIS = [P13_TRI, P14_TRI, P15_TRI, P16_TRI, P17_TRI, P18_TRI,
        P19_TRI, P20_TRI, P21_TRI, P22_TRI, P23_TRI, P24_TRI]
TRIS_OC = [P13_TRI_OC, P14_TRI_OC, P15_TRI_OC, P16_TRI_OC, P17_TRI_OC, P18_TRI_OC,
           P19_TRI_OC, P20_TRI_OC, P21_TRI_OC, P22_TRI_OC, P23_TRI_OC, P24_TRI_OC]

# ---------------- layout in pixels (left, right, top, bottom, oc_top, oc_bottom) ----------------
W, H = 1200, 1469
BOXES = [(41, 390, 6, 223, 228, 283), (450, 792, 13, 224, 230, 283), (859, 1194, 18, 228, 232, 284),
         (51, 384, 388, 594, 600, 651), (454, 791, 382, 592, 598, 652), (855, 1194, 383, 593, 598, 652),
         (49, 390, 758, 969, 977, 1029), (441, 792, 749, 968, 974, 1027), (846, 1194, 752, 968, 974, 1027),
         (49, 389, 1127, 1339, 1346, 1398), (466, 791, 1143, 1344, 1350, 1400), (852, 1193, 1128, 1339, 1346, 1399)]
TITLE_XY = [(201, 338), (614, 338), (1006, 338), (200, 704), (601, 704), (1004, 704),
            (220, 1082), (616, 1082), (1020, 1082), (220, 1452), (618, 1452), (1022, 1452)]
PLABEL_XY = [(0.696, 0.12), (0.839, 0.074), (0.849, 0.076), (0.342, 0.084), (0.839, 0.064), (0.836, 0.068),
             (0.756, 0.107), (0.838, 0.084), (0.744, 0.08), (0.794, 0.08), (0.209, 0.07), (0.852, 0.073)]

BLUE = '#1f77b4'
GREEN = 'green'
FRAME = '0.6'
LINE = '0.35'


def rect(l, r, t, b):
    return [l / W, 1 - b / H, (r - l) / W, (b - t) / H]


def unzip(pairs):
    return [p[0] for p in pairs], [p[1] for p in pairs]


def style_axes(ax):
    for s in ax.spines.values():
        s.set_color(FRAME)
        s.set_linewidth(1.0)
    ax.tick_params(labelsize=8, length=3.5, width=0.8, color='0.2', pad=2)


def draw_points(ax, green, tri, err):
    if tri:
        x, y = unzip(tri)
        if err:
            ax.errorbar(x, y, yerr=err, fmt='none', ecolor='black', elinewidth=0.9, zorder=3)
        sns.scatterplot(x=x, y=y, ax=ax, color='black', marker='^', s=40, linewidth=0, zorder=4)
    if green:
        x, y = unzip(green)
        sns.scatterplot(x=x, y=y, ax=ax, color=GREEN, marker='o', s=36, linewidth=0, zorder=5)


fig = plt.figure(figsize=(W / 100, H / 100), dpi=100)

for i in range(12):
    l, r, t, b, ot, ob = BOXES[i]
    ax = fig.add_axes(rect(l, r, t, b))
    ax_oc = fig.add_axes(rect(l, r, ot, ob))

    # RV panel
    ax.axhline(GAMMA[i], color=LINE, lw=1.0, zorder=1)
    cx, cy = unzip(CURVES[i])
    sns.lineplot(x=cx, y=cy, ax=ax, color=BLUE, lw=1.6, estimator=None, sort=False, zorder=2)
    draw_points(ax, GREENS[i], TRIS[i], TRI_ERR[i])

    ax.set_xlim(X_LIM[i])
    ax.set_ylim(RV_LIM[i])
    ax.set_xticks(X_TICKS[i])
    ax.set_yticks(RV_TICKS[i])
    ax.tick_params(labelbottom=False)
    ax.set_ylabel('RV (km/s)', fontsize=9, labelpad=3)
    ax.set_xlabel('')
    style_axes(ax)
    px, py = PLABEL_XY[i]
    ax.text(px, py, f'P = {PERIODS[i]} d', transform=ax.transAxes, ha='center', va='center',
            color='grey', fontsize=9)

    # O-C panel
    ax_oc.axhline(0, color=LINE, lw=1.0, zorder=1)
    draw_points(ax_oc, GREENS_OC[i], TRIS_OC[i], TRI_ERR[i])
    ax_oc.set_xlim(X_LIM[i])
    ax_oc.set_ylim(OC_LIM[i])
    ax_oc.set_xticks(X_TICKS[i])
    ax_oc.set_yticks(OC_TICKS[i])
    ax_oc.set_ylabel('O-C', fontsize=9, labelpad=3)
    ax_oc.set_xlabel('Phase', fontsize=9, labelpad=1)
    style_axes(ax_oc)

    tx, ty = TITLE_XY[i]
    fig.text(tx / W, 1 - ty / H, NAMES[i], ha='center', va='center', fontsize=14,
             family='Liberation Serif')

fig.savefig('out.png', dpi=100, facecolor='white')
